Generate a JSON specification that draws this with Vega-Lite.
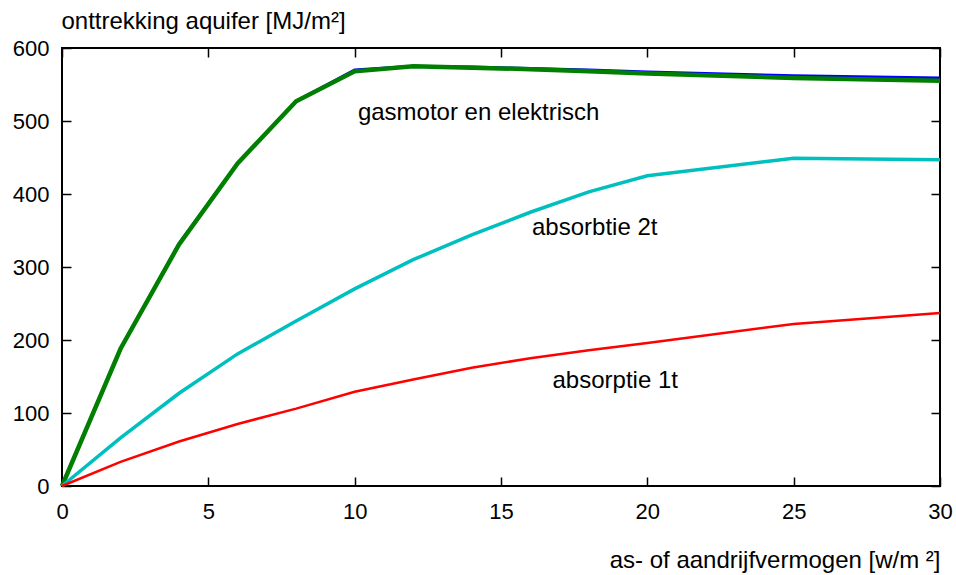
{
  "$schema": "https://vega.github.io/schema/vega-lite/v6.json",
  "width": 878,
  "height": 438,
  "autosize": "none",
  "padding": {"left": 62, "top": 48, "right": 16, "bottom": 89},
  "background": "white",
  "config": {
    "view": {"stroke": "black", "strokeWidth": 2},
    "font": "Liberation Sans",
    "axis": {"grid": false, "domain": false, "tickColor": "black", "tickWidth": 1.5, "labelColor": "black", "titleColor": "black", "labelFont": "Liberation Sans", "titleFont": "Liberation Sans", "labelFontSize": 22, "titleFontSize": 24, "titleFontWeight": "normal", "labelFlush": false, "labelOverlap": false}
  },
  "data": {
    "values": [
      {"x": 0, "y": 0, "s": "elektrisch"},
      {"x": 2, "y": 188, "s": "elektrisch"},
      {"x": 4, "y": 332, "s": "elektrisch"},
      {"x": 6, "y": 442, "s": "elektrisch"},
      {"x": 8, "y": 527, "s": "elektrisch"},
      {"x": 10, "y": 570, "s": "elektrisch"},
      {"x": 12, "y": 575, "s": "elektrisch"},
      {"x": 14, "y": 574, "s": "elektrisch"},
      {"x": 16, "y": 572, "s": "elektrisch"},
      {"x": 18, "y": 570, "s": "elektrisch"},
      {"x": 20, "y": 567, "s": "elektrisch"},
      {"x": 25, "y": 562, "s": "elektrisch"},
      {"x": 30, "y": 559, "s": "elektrisch"},
      {"x": 0, "y": 0, "s": "gasmotor"},
      {"x": 2, "y": 188, "s": "gasmotor"},
      {"x": 4, "y": 331, "s": "gasmotor"},
      {"x": 6, "y": 442, "s": "gasmotor"},
      {"x": 8, "y": 527, "s": "gasmotor"},
      {"x": 10, "y": 568, "s": "gasmotor"},
      {"x": 12, "y": 575, "s": "gasmotor"},
      {"x": 14, "y": 573, "s": "gasmotor"},
      {"x": 16, "y": 571, "s": "gasmotor"},
      {"x": 18, "y": 568, "s": "gasmotor"},
      {"x": 20, "y": 565, "s": "gasmotor"},
      {"x": 25, "y": 559, "s": "gasmotor"},
      {"x": 30, "y": 555, "s": "gasmotor"},
      {"x": 0, "y": 0, "s": "absorbtie 2t"},
      {"x": 2, "y": 66, "s": "absorbtie 2t"},
      {"x": 4, "y": 127, "s": "absorbtie 2t"},
      {"x": 6, "y": 181, "s": "absorbtie 2t"},
      {"x": 8, "y": 226, "s": "absorbtie 2t"},
      {"x": 10, "y": 270, "s": "absorbtie 2t"},
      {"x": 12, "y": 310, "s": "absorbtie 2t"},
      {"x": 14, "y": 344, "s": "absorbtie 2t"},
      {"x": 16, "y": 375, "s": "absorbtie 2t"},
      {"x": 18, "y": 403, "s": "absorbtie 2t"},
      {"x": 20, "y": 425, "s": "absorbtie 2t"},
      {"x": 25, "y": 449, "s": "absorbtie 2t"},
      {"x": 30, "y": 447, "s": "absorbtie 2t"},
      {"x": 0, "y": 0, "s": "absorptie 1t"},
      {"x": 2, "y": 33, "s": "absorptie 1t"},
      {"x": 4, "y": 61, "s": "absorptie 1t"},
      {"x": 6, "y": 85, "s": "absorptie 1t"},
      {"x": 8, "y": 106, "s": "absorptie 1t"},
      {"x": 10, "y": 129, "s": "absorptie 1t"},
      {"x": 12, "y": 146, "s": "absorptie 1t"},
      {"x": 14, "y": 162, "s": "absorptie 1t"},
      {"x": 16, "y": 175, "s": "absorptie 1t"},
      {"x": 18, "y": 186, "s": "absorptie 1t"},
      {"x": 20, "y": 196, "s": "absorptie 1t"},
      {"x": 25, "y": 222, "s": "absorptie 1t"},
      {"x": 30, "y": 237, "s": "absorptie 1t"}
    ]
  },
  "encoding": {
    "x": {"field": "x", "type": "quantitative", "scale": {"domain": [0, 30], "nice": false, "zero": false}, "axis": null},
    "y": {"field": "y", "type": "quantitative", "scale": {"domain": [0, 600], "nice": false}, "axis": null}
  },
  "layer": [
    {
      "mark": {"type": "rule", "opacity": 0},
      "encoding": {
        "x": {"field": "x", "type": "quantitative", "scale": {"domain": [0, 30], "nice": false, "zero": false}, "axis": {"orient": "top", "values": [0, 5, 10, 15, 20, 25, 30], "labels": false, "tickSize": -9, "title": null}},
        "y": {"field": "y", "type": "quantitative", "scale": {"domain": [0, 600], "nice": false}, "axis": {"orient": "right", "values": [0, 100, 200, 300, 400, 500, 600], "labels": false, "tickSize": -9, "title": null}}
      }
    },
    {
      "transform": [{"filter": "datum.s == 'elektrisch'"}],
      "mark": {"type": "line", "color": "#0000ff", "strokeWidth": 3},
      "encoding": {
        "x": {"field": "x", "type": "quantitative", "scale": {"domain": [0, 30], "nice": false, "zero": false}, "axis": {"orient": "bottom", "values": [0, 5, 10, 15, 20, 25, 30], "tickSize": -9, "labelPadding": 24, "title": "as- of aandrijfvermogen [w/m ²]", "titleAlign": "right", "titleAnchor": "end", "titleX": 878, "titleY": 81, "titleBaseline": "alphabetic"}},
        "y": {"field": "y", "type": "quantitative", "scale": {"domain": [0, 600], "nice": false}, "axis": {"orient": "left", "values": [0, 100, 200, 300, 400, 500, 600], "tickSize": -9, "labelPadding": 22, "title": "onttrekking aquifer [MJ/m²]", "titleAngle": 0, "titleAlign": "left", "titleX": -1, "titleY": -20, "titleBaseline": "alphabetic"}}
      }
    },
    {
      "transform": [{"filter": "datum.s == 'gasmotor'"}],
      "mark": {"type": "line", "color": "#007f00", "strokeWidth": 4.5}
    },
    {
      "transform": [{"filter": "datum.s == 'absorbtie 2t'"}],
      "mark": {"type": "line", "color": "#00bfbf", "strokeWidth": 3.5}
    },
    {
      "transform": [{"filter": "datum.s == 'absorptie 1t'"}],
      "mark": {"type": "line", "color": "#ff0000", "strokeWidth": 2.5}
    },
    {
      "data": {"values": [
        {"tx": 10.11, "ty": 501, "label": "gasmotor en elektrisch"},
        {"tx": 16.06, "ty": 344, "label": "absorbtie 2t"},
        {"tx": 16.76, "ty": 134, "label": "absorptie 1t"}
      ]},
      "mark": {"type": "text", "align": "left", "baseline": "alphabetic", "fontSize": 24, "font": "Liberation Sans", "color": "black"},
      "encoding": {
        "x": {"field": "tx", "type": "quantitative", "axis": null},
        "y": {"field": "ty", "type": "quantitative", "axis": null},
        "text": {"field": "label"}
      }
    }
  ],
  "resolve": {"axis": {"x": "independent", "y": "independent"}}
}
